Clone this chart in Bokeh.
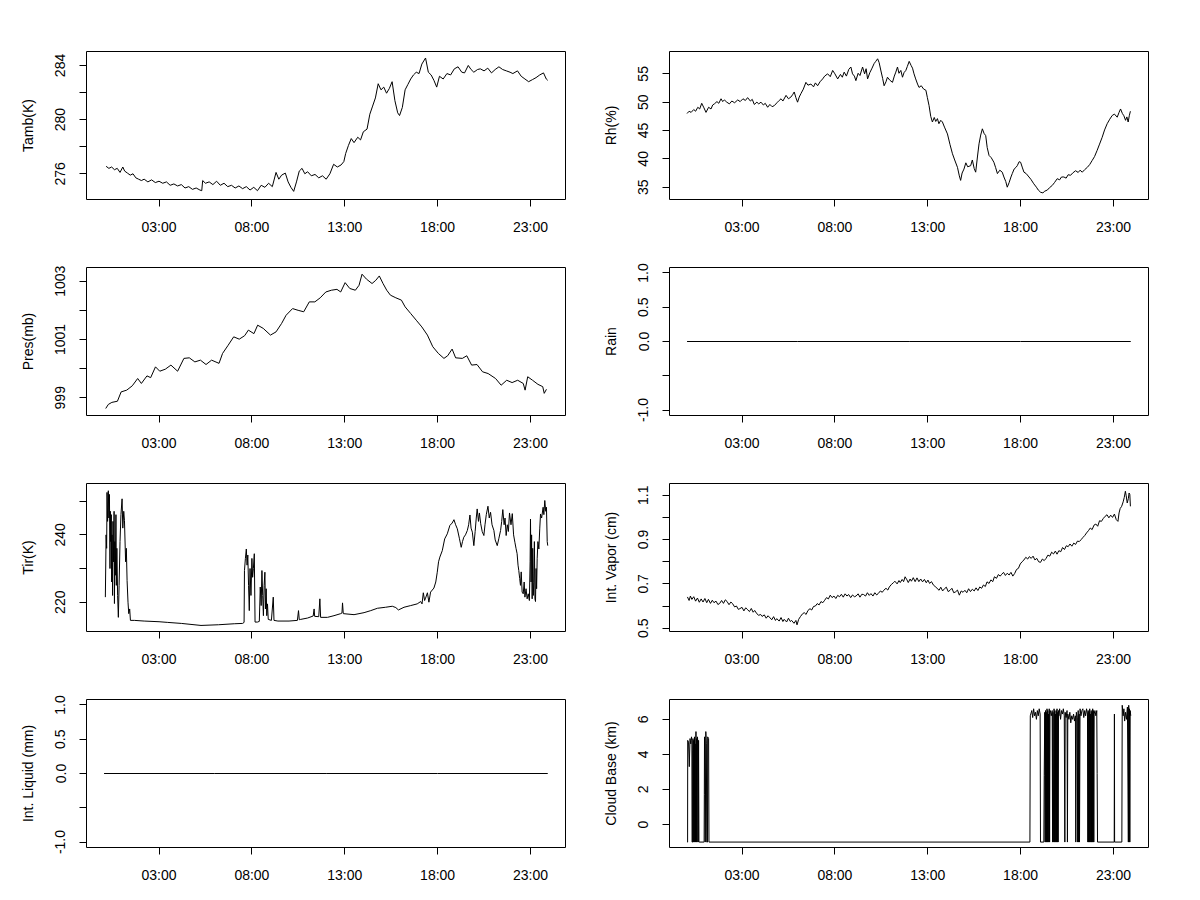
from bokeh.plotting import figure
from bokeh.layouts import gridplot, column
from bokeh.models import Range1d, FixedTicker, Spacer
from bokeh.embed import file_html
from bokeh.resources import INLINE

# ---------------- data (hours since 00:00) ----------------
x_ticks = [3, 8, 13, 18, 23]
x_tick_labels = ["03:00", "08:00", "13:00", "18:00", "23:00"]

tamb_t = [0.15, 0.3, 0.45, 0.6, 0.75, 0.9, 1.05, 1.15, 1.3, 1.45, 1.6, 1.75, 1.9, 2.05, 2.2, 2.4, 2.6, 2.8, 3.0, 3.2,
          3.4, 3.6, 3.8, 4.0, 4.2, 4.4, 4.6, 4.8, 5.0, 5.2, 5.3, 5.35, 5.5, 5.7, 5.9, 6.1, 6.3, 6.5, 6.7, 6.9,
          7.1, 7.3, 7.5, 7.7, 7.9, 8.1, 8.3, 8.5, 8.7, 8.9, 9.1, 9.3, 9.45, 9.6, 9.8, 9.95, 10.1, 10.25, 10.4, 10.55,
          10.7, 10.85, 11.0, 11.2, 11.4, 11.6, 11.8, 12.0, 12.2, 12.4, 12.6, 12.8, 12.95, 13.05, 13.2, 13.35, 13.5, 13.7, 13.85, 14.0,
          14.2, 14.35, 14.5, 14.65, 14.8, 14.95, 15.1, 15.25, 15.4, 15.55, 15.7, 15.85, 15.95, 16.1, 16.25, 16.4, 16.55, 16.7, 16.85, 17.0,
          17.15, 17.35, 17.5, 17.65, 17.8, 17.95, 18.1, 18.3, 18.5, 18.7, 18.9, 19.1, 19.3, 19.45, 19.65, 19.8, 19.95, 20.15, 20.3, 20.5,
          20.7, 20.9, 21.1, 21.3, 21.5, 21.7, 21.9, 22.05, 22.3, 22.5, 22.7, 22.9, 23.1, 23.3, 23.5, 23.7, 23.85, 23.93]
tamb_v = [276.55, 276.4, 276.5, 276.3, 276.4, 276.1, 276.5, 276.2, 276.05, 275.9, 276.0, 275.7, 275.6, 275.5, 275.6, 275.4, 275.55, 275.35, 275.45, 275.3,
          275.4, 275.15, 275.25, 275.1, 275.2, 274.95, 275.05, 274.85, 274.95, 274.8, 274.75, 275.5, 275.3, 275.4, 275.2, 275.45, 275.15, 275.3, 275.05, 275.15,
          274.95, 275.1, 274.9, 275.05, 274.8, 275.0, 274.75, 275.15, 275.0, 275.3, 275.05, 276.1, 275.6, 275.9, 276.05, 275.4, 275.0, 274.7, 275.4, 276.2,
          276.4, 276.0, 276.15, 275.85, 275.95, 275.7, 275.85, 275.6, 276.0, 276.7, 276.5, 276.65, 276.9, 277.5, 278.1, 278.6, 278.3, 278.7, 278.5, 279.1,
          279.3, 280.4, 281.0, 281.6, 282.65, 282.2, 282.4, 281.95, 282.3, 282.8, 281.4, 280.5, 280.3, 280.9, 282.2, 282.6, 283.0, 283.3, 283.5, 283.4,
          284.1, 284.55, 283.5, 283.3, 282.9, 282.4, 283.2, 283.0, 283.4, 283.3, 283.75, 283.9, 283.5, 283.45, 284.0, 283.7, 283.5, 283.7, 283.75, 283.6,
          283.8, 283.45, 283.7, 283.9, 283.7, 283.6, 283.5, 283.4, 283.6, 283.2, 283.0, 282.8, 282.95, 283.1, 283.3, 283.45, 283.0, 282.9]

rh_t = [0.04, 0.15, 0.26, 0.4, 0.5, 0.62, 0.72, 0.83, 0.95, 1.06, 1.2, 1.33, 1.42, 1.51, 1.65, 1.75, 1.87, 1.96, 2.05, 2.18,
        2.32, 2.45, 2.6, 2.77, 2.9, 3.05, 3.18, 3.3, 3.45, 3.55, 3.66, 3.8, 3.9, 4.02, 4.15, 4.25, 4.38, 4.5, 4.62, 4.74,
        4.88, 5.0, 5.1, 5.2, 5.37, 5.5, 5.63, 5.72, 5.81, 5.9, 5.99, 6.08, 6.17, 6.3, 6.44, 6.55, 6.71, 6.85, 6.95, 7.07,
        7.2, 7.34, 7.45, 7.61, 7.75, 7.88, 8.0, 8.15, 8.3, 8.4, 8.5, 8.62, 8.75, 8.86, 8.95, 9.05, 9.13, 9.25, 9.35, 9.49,
        9.6, 9.68, 9.76, 9.88, 10.0, 10.11, 10.2, 10.3, 10.38, 10.48, 10.57, 10.65, 10.75, 10.83, 10.95, 11.1, 11.2, 11.28, 11.37, 11.45,
        11.55, 11.64, 11.72, 11.82, 11.9, 12.0, 12.1, 12.18, 12.26, 12.35, 12.45, 12.53, 12.65, 12.78, 12.9, 12.98, 13.07, 13.16, 13.25, 13.35,
        13.43, 13.52, 13.6, 13.7, 13.79, 13.9, 14.06, 14.2, 14.33, 14.45, 14.6, 14.7, 14.77, 14.85, 14.95, 15.05, 15.15, 15.31, 15.4, 15.5,
        15.58, 15.68, 15.76, 15.85, 15.94, 16.03, 16.12, 16.2, 16.3, 16.42, 16.56, 16.65, 16.75, 16.88, 17.01, 17.1, 17.2, 17.28, 17.38, 17.48,
        17.55, 17.65, 17.75, 17.82, 17.92, 18.0, 18.1, 18.18, 18.3, 18.45, 18.55, 18.71, 18.85, 18.95, 19.08, 19.2, 19.3, 19.44, 19.55, 19.7,
        19.82, 19.97, 20.1, 20.2, 20.33, 20.45, 20.56, 20.69, 20.8, 20.96, 21.1, 21.2, 21.32, 21.45, 21.59, 21.72, 21.85, 21.98, 22.12, 22.25,
        22.39, 22.52, 22.66, 22.8, 22.93, 23.05, 23.2, 23.3, 23.38, 23.48, 23.56, 23.65, 23.72, 23.79, 23.85, 23.91]
rh_v = [48.0, 48.4, 48.2, 48.7, 48.4, 49.1, 48.8, 49.8, 49.0, 48.2, 49.1, 48.8, 49.5, 49.7, 50.1, 49.8, 50.6, 50.1, 50.4, 50.0,
        49.7, 50.2, 49.9, 50.4, 50.1, 50.6, 50.3, 50.8, 50.2, 50.5, 49.6, 50.0, 49.7, 50.0, 49.5, 49.8, 49.1, 49.6, 49.2, 49.4,
        49.9, 50.3, 50.6, 50.2, 51.2, 50.6, 50.9, 51.3, 51.8, 50.8, 50.0, 50.9, 51.5, 52.3, 53.5, 53.0, 53.2, 52.7, 53.4, 52.9,
        53.6, 54.1, 54.6, 55.0, 54.5, 55.6, 55.0, 54.1, 54.9, 54.4, 55.3, 54.6, 55.8, 56.2, 55.0, 54.6, 53.8, 55.1, 54.7, 56.2,
        55.0, 55.9, 54.1, 55.2, 56.0, 56.8, 57.2, 57.65, 57.0, 55.5, 54.2, 52.9, 53.6, 54.4, 53.9, 53.5, 54.6, 55.3, 56.2, 55.1,
        55.6, 54.4, 55.2, 55.6, 56.3, 57.2, 56.5, 56.0, 55.0, 54.1, 53.2, 52.6, 52.9, 52.3, 52.1, 50.8, 49.4, 47.5, 46.5, 47.3,
        46.6, 47.1, 46.2, 46.8, 46.5, 45.6, 44.4, 42.5, 40.9, 39.8, 38.5, 37.0, 36.2, 37.5, 38.2, 39.3, 38.6, 38.8, 39.8, 38.3,
        37.65, 40.5, 42.65, 44.2, 45.3, 44.5, 44.1, 42.0, 40.6, 40.2, 39.4, 38.5, 37.4, 38.0, 37.65, 36.8, 36.0, 35.0, 35.8, 36.8,
        37.4, 38.2, 38.5, 38.8, 39.5, 39.4, 38.4, 37.65, 37.4, 36.8, 36.4, 35.6, 35.0, 34.5, 34.1, 34.0, 34.3, 34.5, 34.9, 35.3,
        35.8, 36.5, 36.3, 36.8, 36.8, 36.6, 37.2, 37.1, 37.5, 37.9, 37.6, 38.0, 37.65, 38.1, 38.5, 39.0, 39.7, 40.4, 41.5, 42.6,
        43.8, 45.1, 46.2, 47.0, 47.65, 47.9, 47.35, 48.2, 48.8, 48.0, 47.6, 46.8, 47.4, 46.5, 47.6, 48.4]

pres_t = [0.13, 0.27, 0.46, 0.76, 0.96, 1.26, 1.56, 1.85, 2.05, 2.35, 2.55, 2.81, 3.04, 3.34, 3.64, 4.0, 4.34, 4.63, 4.93, 5.23,
          5.53, 5.83, 6.23, 6.42, 6.72, 7.02, 7.32, 7.61, 7.81, 8.11, 8.31, 8.61, 9.0, 9.3, 9.6, 9.84, 10.19, 10.49, 10.79, 11.09,
          11.39, 11.68, 11.98, 12.28, 12.58, 12.78, 13.02, 13.27, 13.57, 13.77, 13.93, 14.17, 14.47, 14.67, 14.86, 15.06, 15.26, 15.46, 15.75, 16.05,
          16.25, 16.55, 16.85, 17.15, 17.45, 17.74, 18.04, 18.34, 18.54, 18.78, 18.97, 19.33, 19.57, 19.83, 20.12, 20.42, 20.72, 21.12, 21.42, 21.72,
          22.01, 22.31, 22.61, 22.71, 22.85, 23.11, 23.4, 23.66, 23.74, 23.86]
pres_v = [998.63, 998.77, 998.84, 998.88, 999.2, 999.26, 999.41, 999.66, 999.49, 999.75, 999.69, 1000.06, 999.91, 999.98, 1000.12, 999.91, 1000.35, 1000.37, 1000.23, 1000.29,
          1000.14, 1000.29, 1000.18, 1000.52, 1000.8, 1001.09, 1001.01, 1001.13, 1001.32, 1001.2, 1001.49, 1001.38, 1001.15, 1001.26, 1001.55, 1001.83, 1002.06, 1002.0, 1001.95, 1002.29,
          1002.29, 1002.43, 1002.63, 1002.69, 1002.72, 1002.63, 1002.95, 1002.75, 1002.69, 1002.86, 1003.24, 1003.07, 1002.92, 1003.03, 1003.18, 1002.92, 1002.69, 1002.52, 1002.43, 1002.35,
          1002.12, 1001.89, 1001.66, 1001.43, 1001.15, 1000.75, 1000.52, 1000.35, 1000.44, 1000.67, 1000.37, 1000.35, 1000.44, 1000.12, 1000.14, 999.89, 999.83, 999.66, 999.43, 999.6,
          999.52, 999.6, 999.49, 999.26, 999.72, 999.6, 999.46, 999.38, 999.15, 999.29]

rain_t = [0.04, 6.0, 12.0, 18.0, 23.93]
rain_v = [0.0, 0.0, 0.0, 0.0, 0.0]

tir_t = [0.11, 0.15, 0.18, 0.2, 0.23, 0.27, 0.3, 0.33, 0.36, 0.38, 0.4, 0.43, 0.45, 0.47, 0.5, 0.52, 0.55, 0.58, 0.6, 0.62,
         0.65, 0.68, 0.7, 0.73, 0.77, 0.81, 0.85, 0.9, 0.95, 1.01, 1.05, 1.1, 1.14, 1.2, 1.24, 1.28, 1.33, 1.37, 1.42, 1.46,
         1.67, 2.2, 3.0, 3.47, 4.2, 5.26, 6.2, 7.05, 7.5, 7.58, 7.6, 7.65, 7.7, 7.74, 7.78, 7.82, 7.86, 7.9, 7.95, 8.0,
         8.04, 8.08, 8.13, 8.17, 8.3, 8.4, 8.45, 8.5, 8.54, 8.58, 8.62, 8.66, 8.7, 8.73, 8.77, 8.8, 8.84, 8.88, 9.05, 9.15,
         9.19, 9.4, 10.0, 10.45, 10.51, 10.55, 10.63, 11.0, 11.3, 11.35, 11.38, 11.6, 11.66, 11.7, 12.07, 12.42, 12.78, 12.85, 12.88, 12.92,
         13.5, 14.04, 14.4, 14.76, 15.2, 15.56, 15.75, 15.89, 16.19, 16.55, 16.9, 17.09, 17.16, 17.23, 17.3, 17.35, 17.45, 17.53, 17.62, 17.8,
         17.9, 17.98, 18.05, 18.12, 18.25, 18.38, 18.52, 18.66, 18.78, 18.88, 18.97, 19.06, 19.17, 19.27, 19.34, 19.41, 19.5, 19.6, 19.67, 19.74,
         19.8, 19.87, 19.95, 20.02, 20.08, 20.13, 20.2, 20.25, 20.32, 20.4, 20.49, 20.55, 20.62, 20.71, 20.78, 20.85, 20.93, 21.03, 21.1, 21.21,
         21.3, 21.39, 21.45, 21.51, 21.58, 21.63, 21.69, 21.75, 21.81, 21.87, 21.95, 22.02, 22.09, 22.16, 22.22, 22.28, 22.33, 22.37, 22.42, 22.46,
         22.5, 22.55, 22.61, 22.66, 22.7, 22.76, 22.82, 22.88, 22.94, 22.98, 23.0, 23.03, 23.06, 23.09, 23.12, 23.15, 23.18, 23.21, 23.24, 23.27,
         23.3, 23.33, 23.36, 23.4, 23.45, 23.5, 23.54, 23.6, 23.68, 23.72, 23.77, 23.82, 23.86, 23.9, 23.93]
tir_v = [221.5, 240.0, 236.0, 252.6, 244.0, 253.1, 245.0, 252.0, 230.0, 247.0, 238.0, 246.0, 226.0, 240.0, 222.0, 244.0, 232.0, 247.0, 219.6, 238.0,
         228.0, 246.0, 225.0, 236.0, 222.0, 215.5, 225.0, 238.0, 246.0, 250.7, 242.0, 247.0, 244.2, 232.0, 236.0, 226.4, 220.0, 216.6, 218.0, 214.6,
         214.6, 214.4, 214.2, 214.0, 213.7, 213.1, 213.3, 213.6, 213.7, 214.0, 229.4, 233.0, 235.8, 231.0, 234.0, 225.0, 217.5, 230.0, 222.0, 233.0,
         227.4, 230.0, 234.4, 214.1, 214.1, 214.3, 224.5, 219.0, 229.4, 222.0, 216.0, 225.0, 228.9, 218.0, 224.0, 216.0, 219.5, 214.9, 214.6, 221.5,
         214.6, 214.4, 214.4, 214.6, 217.5, 214.8, 214.9, 215.3, 215.9, 218.0, 215.8, 215.7, 221.0, 215.5, 215.5, 216.0, 216.6, 216.8, 219.8, 216.6,
         216.3, 216.9, 217.5, 218.2, 218.5, 218.8, 218.4, 217.7, 218.5, 219.0, 219.5, 220.2, 219.5, 222.8, 220.5, 221.2, 222.8, 220.0, 223.0, 224.2,
         226.0, 228.9, 232.0, 233.4, 235.3, 238.8, 240.3, 242.8, 243.5, 244.5, 243.0, 241.8, 239.0, 236.3, 238.0, 239.3, 240.0, 241.3, 243.0, 245.9,
         242.0, 240.8, 236.8, 241.0, 245.0, 247.7, 244.0, 246.5, 243.3, 241.0, 239.8, 243.0, 246.0, 248.5, 245.0, 246.7, 243.0, 241.3, 238.5, 236.8,
         239.0, 241.3, 244.0, 247.5, 243.0, 245.0, 239.8, 243.0, 241.0, 246.5, 243.0, 246.3, 240.0, 237.8, 236.0, 234.4, 231.0, 229.4, 227.0, 225.0,
         229.0, 223.0, 222.5, 226.0, 221.5, 224.0, 221.0, 222.5, 220.5, 232.0, 244.7, 226.0, 240.0, 221.0, 236.0, 222.0, 225.9, 238.0, 221.0, 220.2,
         230.0, 224.0, 232.9, 238.0, 235.8, 242.0, 246.2, 245.0, 248.2, 246.0, 250.2, 247.0, 248.2, 238.0, 236.8]

vap_t = [0.06, 0.15, 0.22, 0.3, 0.4, 0.5, 0.6, 0.7, 0.8, 0.9, 1.0, 1.1, 1.19, 1.3, 1.4, 1.49, 1.6, 1.7, 1.79, 1.9,
         2.0, 2.1, 2.19, 2.3, 2.4, 2.49, 2.6, 2.7, 2.8, 2.88, 3.0, 3.1, 3.2, 3.28, 3.4, 3.5, 3.6, 3.68, 3.8, 3.9,
         4.0, 4.08, 4.2, 4.3, 4.4, 4.47, 4.6, 4.7, 4.8, 4.87, 5.0, 5.1, 5.2, 5.27, 5.4, 5.5, 5.6, 5.67, 5.8, 5.9,
         5.96, 6.05, 6.15, 6.26, 6.35, 6.45, 6.55, 6.66, 6.75, 6.85, 6.95, 7.05, 7.15, 7.25, 7.35, 7.45, 7.55, 7.65, 7.75, 7.85,
         7.95, 8.05, 8.15, 8.25, 8.35, 8.45, 8.55, 8.65, 8.74, 8.85, 8.95, 9.05, 9.14, 9.25, 9.35, 9.45, 9.54, 9.65, 9.75, 9.85,
         9.94, 10.05, 10.15, 10.25, 10.33, 10.45, 10.55, 10.63, 10.75, 10.85, 10.93, 11.05, 11.15, 11.23, 11.35, 11.45, 11.52, 11.62, 11.7, 11.78,
         11.88, 11.95, 12.05, 12.12, 12.22, 12.32, 12.42, 12.52, 12.62, 12.72, 12.82, 12.92, 13.01, 13.1, 13.2, 13.31, 13.4, 13.5, 13.61, 13.7,
         13.8, 13.91, 14.0, 14.1, 14.2, 14.3, 14.4, 14.5, 14.6, 14.7, 14.8, 14.9, 15.0, 15.1, 15.2, 15.3, 15.4, 15.5, 15.6, 15.7,
         15.8, 15.9, 16.0, 16.1, 16.19, 16.3, 16.4, 16.5, 16.59, 16.7, 16.8, 16.9, 16.98, 17.08, 17.18, 17.28, 17.38, 17.48, 17.58, 17.68,
         17.78, 17.88, 17.98, 18.08, 18.18, 18.28, 18.38, 18.47, 18.57, 18.67, 18.77, 18.87, 18.97, 19.07, 19.17, 19.27, 19.37, 19.47, 19.57, 19.67,
         19.77, 19.87, 19.96, 20.06, 20.16, 20.26, 20.36, 20.46, 20.56, 20.66, 20.76, 20.86, 20.96, 21.06, 21.16, 21.26, 21.36, 21.45, 21.55, 21.65,
         21.75, 21.85, 21.95, 22.05, 22.15, 22.25, 22.35, 22.45, 22.55, 22.65, 22.75, 22.85, 22.95, 23.05, 23.15, 23.24, 23.3, 23.36, 23.44, 23.52,
         23.58, 23.64, 23.68, 23.74, 23.8, 23.84, 23.88, 23.91]
vap_v = [0.641, 0.625, 0.645, 0.630, 0.642, 0.622, 0.636, 0.617, 0.632, 0.618, 0.634, 0.615, 0.630, 0.612, 0.626, 0.615, 0.622, 0.607, 0.611, 0.625,
         0.612, 0.628, 0.621, 0.606, 0.618, 0.611, 0.596, 0.600, 0.585, 0.588, 0.594, 0.578, 0.592, 0.585, 0.575, 0.589, 0.572, 0.580, 0.565, 0.558,
         0.562, 0.553, 0.560, 0.545, 0.556, 0.550, 0.538, 0.552, 0.535, 0.543, 0.532, 0.548, 0.530, 0.540, 0.528, 0.545, 0.530, 0.535, 0.522, 0.535,
         0.515, 0.540, 0.553, 0.565, 0.570, 0.562, 0.580, 0.588, 0.582, 0.598, 0.600, 0.611, 0.605, 0.620, 0.615, 0.626, 0.638, 0.632, 0.649, 0.638,
         0.645, 0.634, 0.648, 0.642, 0.653, 0.640, 0.655, 0.645, 0.652, 0.638, 0.650, 0.642, 0.645, 0.655, 0.640, 0.653, 0.652, 0.645, 0.660, 0.648,
         0.656, 0.645, 0.660, 0.650, 0.656, 0.668, 0.662, 0.671, 0.680, 0.672, 0.686, 0.698, 0.705, 0.712, 0.700, 0.715, 0.706, 0.720, 0.710, 0.732,
         0.718, 0.706, 0.722, 0.712, 0.728, 0.710, 0.727, 0.710, 0.722, 0.709, 0.720, 0.705, 0.717, 0.702, 0.710, 0.694, 0.688, 0.680, 0.671, 0.685,
         0.668, 0.679, 0.685, 0.665, 0.671, 0.680, 0.660, 0.664, 0.672, 0.649, 0.668, 0.662, 0.671, 0.660, 0.678, 0.665, 0.676, 0.668, 0.682, 0.670,
         0.686, 0.680, 0.695, 0.688, 0.709, 0.702, 0.718, 0.710, 0.732, 0.725, 0.742, 0.735, 0.743, 0.752, 0.738, 0.748, 0.740, 0.752, 0.735, 0.747,
         0.765, 0.770, 0.790, 0.800, 0.808, 0.820, 0.812, 0.823, 0.815, 0.825, 0.808, 0.815, 0.800, 0.797, 0.812, 0.805, 0.815, 0.830, 0.825, 0.843,
         0.835, 0.848, 0.834, 0.850, 0.845, 0.864, 0.855, 0.872, 0.868, 0.880, 0.870, 0.884, 0.878, 0.893, 0.891, 0.900, 0.910, 0.918, 0.930, 0.940,
         0.952, 0.945, 0.965, 0.970, 0.960, 0.985, 0.982, 0.995, 1.005, 1.012, 0.998, 1.010, 1.000, 1.015, 0.990, 0.982, 1.020, 1.040, 1.050, 1.070,
         1.090, 1.118, 1.100, 1.065, 1.085, 1.110, 1.103, 1.050]

liq_t = [0.04, 6.0, 12.0, 18.0, 23.93]
liq_v = [0.0, 0.0, 0.0, 0.0, 0.0]

cb_t = [0.04, 0.07, 0.075, 0.12, 0.16, 0.2, 0.24, 0.28, 0.3, 0.31, 0.34, 0.345, 0.36, 0.37, 0.4, 0.41, 0.44, 0.45, 0.48, 0.5,
        0.52, 0.54, 0.56, 0.58, 0.6, 0.62, 0.64, 0.66, 0.68, 0.7, 0.95, 0.96, 0.97, 0.98, 1.0, 1.02, 1.05, 1.08, 1.1, 1.14,
        1.15, 1.2, 1.22, 18.5, 18.52, 18.6, 18.65, 18.7, 18.75, 18.8, 18.85, 18.9, 18.95, 19.0, 19.05, 19.07, 19.25, 19.27, 19.3, 19.32,
        19.34, 19.36, 19.38, 19.4, 19.42, 19.44, 19.46, 19.48, 19.5, 19.52, 19.54, 19.56, 19.58, 19.6, 19.65, 19.7, 19.72, 19.74, 19.76, 19.8,
        19.82, 19.84, 19.86, 19.88, 19.9, 19.92, 19.94, 19.96, 19.98, 20.0, 20.02, 20.04, 20.06, 20.1, 20.15, 20.2, 20.25, 20.3, 20.35, 20.38,
        20.4, 20.45, 20.5, 20.52, 20.54, 20.6, 20.65, 20.7, 20.75, 20.8, 20.85, 20.9, 20.95, 20.97, 21.0, 21.05, 21.07, 21.1, 21.12, 21.15,
        21.17, 21.2, 21.25, 21.3, 21.35, 21.4, 21.45, 21.5, 21.55, 21.6, 21.62, 21.64, 21.66, 21.68, 21.7, 21.72, 21.74, 21.76, 21.78, 21.8,
        21.82, 21.84, 21.86, 21.88, 21.9, 21.92, 21.94, 21.96, 22.0, 22.05, 22.1, 22.12, 22.14, 23.04, 23.05, 23.06, 23.45, 23.47, 23.52, 23.56,
        23.6, 23.65, 23.7, 23.75, 23.8, 23.82, 23.84, 23.86, 23.88, 23.9, 23.93]
cb_v = [-1, -1, 4.8, 4.7, 3.3, 4.9, 4.6, 5.0, 4.8, -1, -1, 4.2, 4.9, -1, 4.8, -1, 5.0, -1, 4.6, -1,
        5.3, -1, 4.9, -1, 5.0, 4.7, -1, 4.8, -1, -1, -1, -1, 1.7, 5.0, 4.6, -1, 5.3, 4.6, -1, -1,
        5.0, 4.9, -1, -1, 6.2, 6.5, 6.1, 6.6, 6.2, 6.4, 6.0, 6.5, 6.2, 6.6, 6.3, -1, -1, 2.8, 6.4, -1,
        6.5, -1, 6.4, -1, 6.6, -1, 6.5, -1, 6.3, -1, 6.6, -1, 6.4, 6.5, 6.2, 6.5, -1, 6.4, -1, 6.6,
        -1, 6.5, -1, 6.3, -1, 6.5, -1, 6.6, -1, 6.4, -1, 6.5, 6.2, 6.6, 6.0, 6.5, 6.3, 6.6, 6.2, -1,
        6.4, 6.1, 6.5, -1, 6.3, 6.0, 6.4, 5.8, 6.2, 6.0, 6.3, 5.9, 6.2, -1, 6.4, 6.1, -1, 6.5, -1, 6.3,
        -1, 6.6, 6.2, 6.5, 6.6, 6.1, 6.5, 6.2, 6.6, 6.3, -1, 6.5, -1, 6.4, -1, 6.6, -1, 6.3, -1, 6.5,
        -1, 6.4, -1, 6.6, -1, 6.5, -1, 6.3, 6.5, 6.2, 6.5, 2.9, -1, -1, 6.3, -1, -1, 6.8, 6.2, 6.6,
        5.9, 6.4, 6.0, 6.7, -1, 6.8, -1, 6.6, -1, 6.5, 6.2]

# ---------------- layout / style ----------------
FONT = "Liberation Sans"
FS = "14px"
X_RANGE = (-0.905, 24.885)
FRAME_W, FRAME_H = 479, 148


def panel(col, t, v, y_range, y_ticks, y_labels, ylab):
    left = 86
    right = 18
    p = figure(width=left + FRAME_W + right, height=28 + FRAME_H + 40,
               x_range=Range1d(*X_RANGE), y_range=Range1d(*y_range),
               output_backend="svg", toolbar_location=None,
               min_border_left=left, min_border_right=right,
               min_border_top=28, min_border_bottom=40)
    p.line(t, v, line_color="black", line_width=1)
    p.grid.visible = False
    p.outline_line_color = "black"
    p.outline_line_alpha = 1.0
    p.outline_line_width = 1
    p.background_fill_color = "white"
    p.border_fill_color = "white"

    xa = p.xaxis[0]
    xa.ticker = FixedTicker(ticks=x_ticks)
    xa.major_label_overrides = {k: s for k, s in zip(x_ticks, x_tick_labels)}
    xa.axis_line_color = None
    xa.major_tick_out = 7
    xa.major_tick_in = 0
    xa.major_tick_line_color = "black"
    xa.minor_tick_line_color = None
    xa.major_label_standoff = 12
    xa.major_label_text_font = FONT
    xa.major_label_text_font_size = FS
    xa.major_label_text_color = "black"

    ya = p.yaxis[0]
    ya.ticker = FixedTicker(ticks=y_ticks)
    ya.major_label_overrides = {k: s for k, s in zip(y_ticks, y_labels)}
    ya.axis_line_color = None
    ya.major_tick_out = 7
    ya.major_tick_in = 0
    ya.major_tick_line_color = "black"
    ya.minor_tick_line_color = None
    ya.major_label_orientation = "vertical"
    ya.major_label_standoff = 14
    ya.major_label_text_font = FONT
    ya.major_label_text_font_size = FS
    ya.major_label_text_color = "black"
    ya.axis_label = ylab
    ya.axis_label_text_font = FONT
    ya.axis_label_text_font_size = FS
    ya.axis_label_text_font_style = "normal"
    ya.axis_label_text_color = "black"
    ya.axis_label_standoff = 17
    return p


p_tamb = panel(0, tamb_t, tamb_v, (274.1, 285.03), [276, 278, 280, 282, 284],
               ["276", "", "280", "", "284"], "Tamb(K)")
p_rh = panel(1, rh_t, rh_v, (32.83, 58.94), [35, 40, 45, 50, 55],
             ["35", "40", "45", "50", "55"], "Rh(%)")
p_pres = panel(0, pres_t, pres_v, (998.39, 1003.47), [999, 1000, 1001, 1002, 1003],
               ["999", "", "1001", "", "1003"], "Pres(mb)")
p_rain = panel(1, rain_t, rain_v, (-1.08, 1.08), [-1.0, -0.5, 0.0, 0.5, 1.0],
               ["-1.0", "", "0.0", "0.5", "1.0"], "Rain")
p_tir = panel(0, tir_t, tir_v, (211.3, 255.25), [220, 230, 240, 250],
              ["220", "", "240", ""], "Tir(K)")
p_vap = panel(1, vap_t, vap_v, (0.485, 1.153), [0.5, 0.6, 0.7, 0.8, 0.9, 1.0, 1.1],
              ["0.5", "", "0.7", "", "0.9", "", "1.1"], "Int. Vapor (cm)")
p_liq = panel(0, liq_t, liq_v, (-1.08, 1.08), [-1.0, -0.5, 0.0, 0.5, 1.0],
              ["-1.0", "", "0.0", "0.5", "1.0"], "Int. Liquid (mm)")
p_cb = panel(1, cb_t, cb_v, (-1.31, 7.13), [0, 2, 4, 6],
             ["0", "2", "4", "6"], "Cloud Base (km)")

grid = gridplot([[p_tamb, p_rh], [p_pres, p_rain], [p_tir, p_vap], [p_liq, p_cb]],
                toolbar_location=None)
page = column(Spacer(height=23, width=10), grid)

open("out.html", "w").write(file_html(page, INLINE))
